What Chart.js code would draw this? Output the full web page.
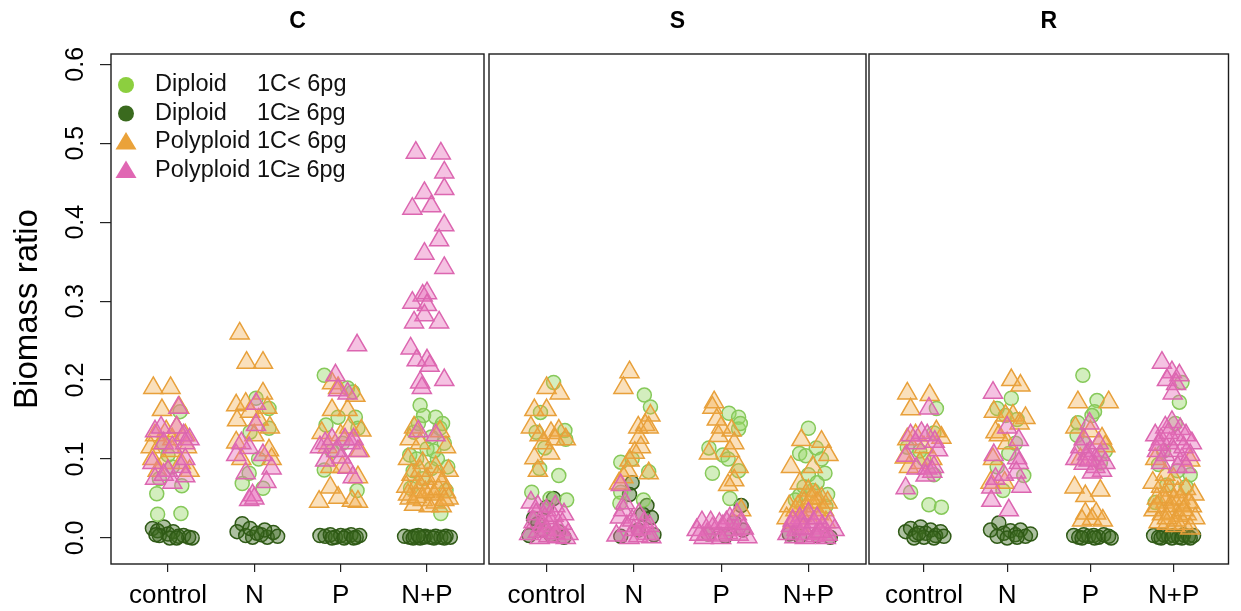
<!DOCTYPE html>
<html>
<head>
<meta charset="utf-8">
<script src="https://cdn.jsdelivr.net/npm/chart.js@4.4.1/dist/chart.umd.min.js"></script>
<style>
  html, body { margin: 0; padding: 0; background: #fff; }
  #wrap { position: relative; width: 1241px; height: 611px; }
  #wrap canvas { position: absolute; left: 0; top: 0; }
</style>
</head>
<body>
<div id="wrap">
  <canvas id="panelC" width="1241" height="611"></canvas>
  <canvas id="panelS" width="1241" height="611"></canvas>
  <canvas id="panelR" width="1241" height="611"></canvas>
</div>
<script>
// Biomass ratio by treatment, three strategies (C / S / R)

const treatments = ['control', 'N', 'P', 'N+P'];
const yTicks = [0, 0.1, 0.2, 0.3, 0.4, 0.5, 0.6];

// points are [jittered treatment position, biomass ratio]
// --- C ---
const cDipSmall = [[1.14,0.16],[0.95,0.12],[1.05,0.09],[0.9,0.075],[1.16,0.066],[0.87,0.056],[0.88,0.03],[1.15,0.031],[1.0,0.105],
  [2.02,0.177],[2.17,0.164],[1.95,0.134],[2.17,0.139],[1.94,0.082],[1.86,0.069],[2.1,0.063],[2.05,0.1],
  [2.81,0.206],[3.08,0.19],[3.14,0.185],[2.97,0.153],[3.17,0.153],[2.83,0.143],[3.2,0.139],[2.81,0.086],[3.19,0.06],[3.02,0.12],[2.9,0.11],
  [3.92,0.168],[3.96,0.155],[4.1,0.153],[4.15,0.139],[3.85,0.134],[4.05,0.128],[4.2,0.12],[4.0,0.113],[3.8,0.105],[3.88,0.1],[4.12,0.1],[4.05,0.088],[3.81,0.063],[4.16,0.031],[3.95,0.075],[4.22,0.06],
  [4.18,0.145],[3.9,0.145],[4.08,0.11],[3.84,0.085],[4.24,0.09]];
const cDipLarge = [[0.82,0.012],[0.88,0.009],[0.95,0.014],[1.0,0.005],[1.06,0.008],[1.12,0.002],[1.18,0.003],[1.24,0.001],[0.9,0.003],[1.02,0.0],[1.28,0.0],[1.1,0.0],[0.86,0.004],
  [1.86,0.018],[1.8,0.008],[1.9,0.003],[1.98,0.001],[2.08,0.004],[2.15,0.001],[2.22,0.007],[2.27,0.002],[2.12,0.01],[1.95,0.012],[2.03,0.006],
  [2.76,0.003],[2.82,0.002],[2.88,0.004],[2.94,0.001],[3.0,0.003],[3.06,0.002],[3.12,0.004],[3.18,0.001],[3.22,0.003],[2.9,0.0],[3.04,0.0],[3.15,0.0],
  [3.74,0.002],[3.8,0.001],[3.86,0.002],[3.92,0.0],[3.98,0.002],[4.04,0.001],[4.1,0.002],[4.16,0.001],[4.22,0.002],[4.27,0.001],[3.84,0.0],[3.96,0.001],[4.08,0.0],[4.2,0.0],[3.9,0.003]];
const cPolySmall = [[0.83,0.19],[1.03,0.19],[0.93,0.162],[1.13,0.165],[0.85,0.13],[0.98,0.135],[1.1,0.14],[1.2,0.13],[0.8,0.115],[0.92,0.12],[1.05,0.11],[1.22,0.115],[0.82,0.1],[0.95,0.095],[1.15,0.095],[1.25,0.085],[0.88,0.085],[1.05,0.125],
  [1.83,0.259],[1.91,0.222],[2.1,0.222],[2.1,0.183],[1.79,0.168],[1.9,0.17],[2.15,0.165],[1.8,0.149],[2.18,0.14],[1.79,0.121],[2.17,0.111],[2.05,0.15],[1.95,0.16],[2.2,0.1],[1.85,0.1],[2.0,0.13],
  [2.9,0.196],[2.97,0.19],[3.17,0.18],[2.9,0.162],[3.08,0.162],[3.24,0.136],[2.78,0.133],[3.0,0.13],[3.22,0.11],[2.88,0.09],[3.02,0.09],[3.2,0.077],[2.88,0.064],[2.97,0.051],[3.13,0.047],[3.2,0.046],[2.75,0.046],[3.1,0.14],[2.85,0.115],
  [3.85,0.14],[4.15,0.135],[3.8,0.125],[3.92,0.12],[4.22,0.115],[3.78,0.1],[3.95,0.095],[4.1,0.09],[4.25,0.085],[3.82,0.08],[4.0,0.075],[4.18,0.07],[3.76,0.065],[3.9,0.06],[4.05,0.06],[4.22,0.058],[3.8,0.05],[3.95,0.048],[4.1,0.045],[4.25,0.05],[3.85,0.042],[4.02,0.04],[4.17,0.04],[3.9,0.07],[4.08,0.055],
  [3.78,0.055],[3.88,0.052],[3.98,0.058],[4.13,0.062],[4.2,0.048],[3.92,0.085],[4.12,0.078]];
const cPolyLarge = [[1.12,0.165],[0.85,0.135],[0.92,0.14],[1.1,0.14],[1.18,0.13],[1.25,0.125],[0.95,0.12],[1.05,0.115],[1.2,0.12],[0.82,0.095],[1.0,0.085],[1.15,0.09],[1.2,0.1],[0.85,0.075],[1.05,0.07],[0.95,0.08],[1.2,0.078],
  [2.02,0.17],[2.02,0.143],[1.94,0.114],[1.79,0.105],[2.1,0.105],[2.2,0.088],[1.9,0.082],[2.14,0.071],[1.98,0.054],[1.94,0.048],[2.0,0.05],[1.85,0.12],
  [3.19,0.244],[2.94,0.206],[2.97,0.187],[3.08,0.183],[2.76,0.115],[2.82,0.12],[2.9,0.125],[3.05,0.125],[3.12,0.12],[3.15,0.125],[3.01,0.102],[3.08,0.089],[3.14,0.077],[2.82,0.098],[2.95,0.11],[3.2,0.11],
  [3.87,0.488],[4.16,0.487],[4.2,0.463],[4.2,0.442],[3.97,0.437],[4.05,0.42],[3.83,0.417],[4.2,0.396],[4.14,0.377],[3.97,0.36],[4.2,0.342],[3.95,0.307],[4.0,0.31],[3.83,0.298],[4.0,0.295],[3.97,0.282],[3.85,0.273],[4.14,0.273],[3.81,0.24],[3.88,0.225],[4.0,0.225],[4.03,0.218],[4.2,0.2],[3.92,0.197],[3.94,0.19],[3.9,0.135],[4.1,0.13]];

// --- S ---
const sDipSmall = [[1.08,0.197],[0.93,0.159],[1.21,0.136],[0.88,0.134],[1.22,0.125],[0.98,0.114],[0.92,0.088],[1.14,0.079],[0.83,0.058],[1.23,0.048],[1.04,0.05],
  [2.12,0.181],[2.19,0.166],[1.85,0.096],[1.98,0.1],[2.17,0.084],[1.85,0.058],[1.84,0.044],[2.11,0.048],
  [3.09,0.158],[3.2,0.153],[3.2,0.138],[2.86,0.114],[3.02,0.105],[3.08,0.1],[2.9,0.082],[3.2,0.085],[3.22,0.145],[3.1,0.05],
  [4.0,0.139],[3.9,0.107],[3.97,0.104],[4.09,0.114],[4.19,0.082],[4.0,0.08],[3.9,0.054],[3.85,0.048],[4.2,0.04],[4.05,0.06],[4.15,0.1],
  [4.1,0.07],[3.95,0.065],[4.22,0.055]];
const sDipLarge = [[1.08,0.05],[1.0,0.039],[0.9,0.018],[0.96,0.01],[1.14,0.008],[0.85,0.025],[1.2,0.001],[1.05,0.004],[0.8,0.003],
  [1.98,0.07],[2.15,0.041],[2.2,0.026],[2.1,0.03],[2.23,0.004],[1.95,0.055],[2.05,0.01],[1.85,0.002],
  [3.23,0.041],[3.25,0.01],[3.15,0.02],[2.85,0.005],[3.05,0.002],
  [3.78,0.005],[3.9,0.002],[4.1,0.003],[4.25,0.001]];
const sPolySmall = [[1.0,0.19],[1.15,0.183],[0.86,0.162],[1.0,0.162],[0.92,0.13],[1.05,0.133],[1.14,0.136],[1.22,0.125],[0.96,0.12],[1.04,0.107],[0.86,0.101],[0.9,0.085],[1.1,0.125],[0.82,0.14],
  [1.95,0.21],[1.88,0.19],[2.19,0.155],[2.13,0.143],[2.05,0.14],[2.17,0.14],[2.06,0.127],[2.08,0.115],[2.01,0.108],[1.95,0.098],[1.93,0.085],[1.88,0.077],[2.17,0.082],[1.83,0.069],
  [2.92,0.172],[2.9,0.165],[2.97,0.129],[3.12,0.136],[3.15,0.12],[2.86,0.107],[3.1,0.11],[3.2,0.09],[3.15,0.073],[3.08,0.067],[3.23,0.035],[3.0,0.14],[2.95,0.15],
  [3.92,0.124],[4.15,0.122],[4.23,0.105],[3.8,0.09],[4.05,0.09],[3.9,0.069],[4.0,0.06],[4.08,0.055],[4.15,0.05],[4.22,0.045],[3.78,0.04],[3.85,0.035],[3.95,0.045],[4.05,0.04],[4.12,0.03],[3.75,0.025],[3.82,0.02],[4.0,0.025],[4.2,0.02],[3.9,0.015],
  [3.98,0.035],[4.1,0.045],[4.18,0.035],[3.88,0.04],[4.03,0.05],[3.92,0.028]];
const sPolyLarge = [[0.82,0.045],[0.9,0.04],[1.0,0.035],[1.1,0.04],[1.2,0.03],[0.85,0.02],[0.95,0.015],[1.05,0.02],[1.15,0.01],[1.25,0.005],[0.8,0.005],[0.92,0.0],[1.02,0.002],[1.12,0.001],[1.22,0.0],
  [0.88,0.03],[0.98,0.025],[1.08,0.028],[1.18,0.018],[0.9,0.008],[1.0,0.01],[1.1,0.006],
  [1.85,0.067],[1.9,0.044],[1.84,0.026],[1.92,0.015],[2.0,0.01],[2.08,0.012],[2.15,0.005],[1.8,0.003],[1.95,0.0],[2.05,0.002],[2.2,0.001],[2.12,0.02],
  [1.88,0.035],[1.98,0.022],[2.06,0.03],[2.18,0.015],
  [2.72,0.01],[2.78,0.02],[2.84,0.005],[2.9,0.012],[2.96,0.003],[3.02,0.015],[3.08,0.006],[3.14,0.01],[3.2,0.004],[3.26,0.012],[3.3,0.001],[2.8,0.0],[3.0,0.0],[3.1,0.025],[3.18,0.03],
  [2.88,0.02],[2.98,0.018],[3.06,0.02],[3.22,0.018],[2.75,0.004],
  [3.8,0.015],[3.86,0.01],[3.92,0.02],[3.98,0.005],[4.04,0.012],[4.1,0.006],[4.16,0.015],[4.22,0.004],[4.3,0.01],[3.84,0.001],[3.96,0.0],[4.08,0.002],[4.2,0.0],[4.0,0.031],[3.9,0.025],[4.25,0.02],
  [3.82,0.022],[3.94,0.012],[4.06,0.02],[4.14,0.008],[4.1,0.025],[3.76,0.005]];

// --- R ---
const rDipSmall = [[1.15,0.164],[1.12,0.133],[0.8,0.115],[0.95,0.11],[1.12,0.08],[0.84,0.058],[1.06,0.042],[1.21,0.039],[1.0,0.1],
  [2.05,0.177],[1.88,0.164],[1.98,0.155],[2.12,0.15],[2.02,0.107],[1.88,0.09],[2.2,0.079],[1.95,0.06],[2.1,0.12],
  [2.91,0.206],[3.08,0.174],[3.05,0.16],[3.02,0.155],[2.85,0.146],[2.84,0.13],[2.92,0.12],[3.12,0.095],[3.18,0.11],
  [4.1,0.197],[4.07,0.172],[4.02,0.145],[3.82,0.093],[3.92,0.067],[3.78,0.045],[4.15,0.065],[4.2,0.08],[3.88,0.11],[4.05,0.085]];
const rDipLarge = [[0.78,0.008],[0.84,0.012],[0.9,0.004],[0.96,0.014],[1.02,0.006],[1.08,0.01],[1.14,0.003],[1.2,0.008],[1.24,0.002],[0.88,0.0],[1.0,0.001],[1.12,0.0],[0.94,0.006],
  [1.9,0.019],[1.8,0.01],[1.88,0.002],[1.96,0.006],[2.04,0.009],[2.1,0.004],[2.16,0.01],[2.22,0.002],[2.28,0.005],[2.0,0.0],[2.12,0.001],
  [2.8,0.003],[2.86,0.001],[2.92,0.004],[2.98,0.002],[3.04,0.003],[3.1,0.001],[3.16,0.004],[3.22,0.002],[3.25,0.0],[2.9,0.0],[3.05,0.0],
  [3.76,0.003],[3.82,0.001],[3.88,0.004],[3.94,0.002],[4.0,0.003],[4.06,0.001],[4.12,0.004],[4.18,0.002],[4.24,0.003],[3.85,0.0],[3.98,0.0],[4.1,0.0],[4.2,0.0]];
const rPolySmall = [[0.8,0.183],[1.07,0.181],[0.84,0.163],[1.21,0.127],[0.8,0.125],[0.9,0.13],[0.77,0.102],[0.82,0.09],[1.1,0.1],[1.0,0.115],[1.15,0.135],[0.95,0.095],
  [2.05,0.2],[2.16,0.193],[1.84,0.16],[1.98,0.155],[2.07,0.155],[2.22,0.152],[1.86,0.134],[1.9,0.13],[2.0,0.12],[1.8,0.07],[1.97,0.07],[2.15,0.145],[1.83,0.1],
  [2.85,0.172],[3.22,0.172],[2.82,0.14],[3.14,0.126],[3.18,0.116],[2.81,0.064],[2.94,0.053],[3.12,0.06],[2.94,0.031],[3.07,0.031],[3.02,0.024],[2.9,0.022],[3.15,0.022],[2.88,0.1],[3.0,0.135],
  [3.78,0.1],[4.2,0.098],[3.75,0.07],[3.85,0.065],[3.95,0.06],[4.05,0.058],[4.15,0.062],[4.25,0.055],[3.8,0.05],[3.9,0.045],[4.0,0.048],[4.1,0.042],[4.22,0.04],[3.76,0.035],[3.86,0.03],[3.96,0.032],[4.06,0.028],[4.16,0.03],[4.26,0.025],[3.82,0.02],[3.92,0.018],[4.02,0.015],[4.12,0.018],[4.2,0.012],[4.0,0.075],[3.9,0.08],
  [3.88,0.052],[3.98,0.04],[4.08,0.05],[4.18,0.045],[3.8,0.04],[4.03,0.022],[4.12,0.035],[3.92,0.025]];
const rPolyLarge = [[1.06,0.164],[0.84,0.13],[0.97,0.133],[1.04,0.13],[1.13,0.122],[1.17,0.111],[0.79,0.104],[0.91,0.088],[1.04,0.088],[1.12,0.09],[1.1,0.084],[1.02,0.079],[0.78,0.063],[0.9,0.12],
  [1.83,0.184],[2.14,0.124],[1.84,0.105],[2.12,0.101],[2.14,0.095],[2.11,0.083],[1.86,0.075],[1.81,0.064],[2.17,0.065],[1.81,0.047],[2.02,0.035],[1.96,0.08],[2.0,0.14],
  [2.99,0.145],[2.92,0.125],[2.82,0.1],[2.96,0.106],[3.0,0.11],[3.06,0.1],[3.12,0.105],[2.92,0.094],[3.06,0.09],[3.14,0.085],[3.02,0.083],[2.98,0.098],[3.18,0.095],[2.88,0.115],[3.1,0.12],
  [3.86,0.222],[3.98,0.21],[4.07,0.206],[3.92,0.2],[4.03,0.195],[3.99,0.183],[3.98,0.147],[3.9,0.14],[4.08,0.138],[3.78,0.13],[3.85,0.125],[3.95,0.12],[4.05,0.125],[4.15,0.13],[4.22,0.12],[3.8,0.11],[3.9,0.105],[4.0,0.11],[4.1,0.1],[4.2,0.105],[3.85,0.095],[4.05,0.09],[4.15,0.09],
  [3.94,0.133],[4.12,0.115],[3.82,0.118]];

// page geometry (pixels)
const W = 1241, H = 611;
const BOTTOM = 564;
const FONT = '"Liberation Sans", Arial, Helvetica, sans-serif';

Chart.defaults.font.family = FONT;
Chart.defaults.color = '#000';

// group styles, legend order
const groups = [
  { name: 'Diploid',   size: '1C< 6pg', shape: 'circle',   solid: '#8ccf3f', line: '#86c95a', fill: 'rgba(150,214,100,0.42)', order: 2 },
  { name: 'Diploid',   size: '1C\u2265 6pg', shape: 'circle',   solid: '#3a6a1e', line: '#2f5a16', fill: 'rgba(60,105,30,0.42)',   order: 3 },
  { name: 'Polyploid', size: '1C< 6pg', shape: 'triangle', solid: '#eaa23a', line: '#e8a03a', fill: 'rgba(242,168,70,0.36)',  order: 1 },
  { name: 'Polyploid', size: '1C\u2265 6pg', shape: 'triangle', solid: '#e067b3', line: '#dc66b0', fill: 'rgba(230,110,185,0.42)', order: 0 }
];

// frame around each panel
const boxPlugin = {
  id: 'panelBox',
  afterDatasetsDraw(chart) {
    const { ctx, chartArea: a } = chart;
    ctx.save();
    ctx.strokeStyle = '#1c1c1c';
    ctx.lineWidth = 1.4;
    ctx.strokeRect(a.left, a.top, a.right - a.left, a.bottom - a.top);
    ctx.restore();
  }
};

// legend drawn inside the C panel
const legendPlugin = {
  id: 'groupLegend',
  afterDraw(chart) {
    const ctx = chart.ctx;
    ctx.save();
    ctx.font = '23.5px ' + FONT;
    ctx.textBaseline = 'middle';
    groups.forEach((g, i) => {
      const y = 85 + i * 28.5;
      ctx.fillStyle = g.solid;
      ctx.beginPath();
      if (g.shape === 'circle') {
        ctx.arc(126, y, 8, 0, Math.PI * 2);
      } else {
        ctx.moveTo(126, y - 10);
        ctx.lineTo(136.5, y + 7.5);
        ctx.lineTo(115.5, y + 7.5);
        ctx.closePath();
      }
      ctx.fill();
      ctx.fillStyle = '#111';
      ctx.fillText(g.name, 155, y);
      ctx.fillText(g.size, 257, y);
    });
    ctx.restore();
  }
};

function makePanel(id, title, box, series, first) {
  const datasets = groups.map((g, i) => ({
    label: g.name + ' ' + g.size,
    data: series[i].map(([x, y]) => ({ x, y })),
    pointStyle: g.shape,
    pointRadius: g.shape === 'circle' ? 7 : 11,
    pointBorderWidth: 1.5,
    pointBorderColor: g.line,
    pointBackgroundColor: g.fill,
    showLine: false,
    order: g.order
  }));

  return new Chart(document.getElementById(id), {
    type: 'scatter',
    data: { datasets },
    options: {
      responsive: false,
      animation: false,
      devicePixelRatio: 1,
      // the y axis box fills everything left of the panel
      layout: { padding: { left: 0, right: W - box[1], top: 0, bottom: 0 } },
      plugins: {
        legend: { display: false },
        tooltip: { enabled: false },
        title: {
          display: true,
          text: title,
          fullSize: false,
          font: { size: 23, weight: 'bold' },
          color: '#000',
          padding: { top: 8.2, bottom: 18.2 }
        }
      },
      scales: {
        x: {
          type: 'linear',
          min: 0.34,
          max: 4.66,
          afterBuildTicks: s => { s.ticks = treatments.map((_, i) => ({ value: i + 1 })); },
          afterFit: s => { s.height = H - BOTTOM; },
          ticks: {
            callback: v => treatments[v - 1],
            font: { size: 26 },
            color: '#000',
            padding: 8,
            maxRotation: 0,
            autoSkip: false
          },
          grid: { drawOnChartArea: false, drawTicks: true, tickLength: 8, color: '#222', lineWidth: 1.2 },
          border: { display: false }
        },
        y: {
          min: -0.033,
          max: 0.613,
          afterBuildTicks: s => { s.ticks = yTicks.map(v => ({ value: v })); },
          afterFit: s => { s.width = box[0]; },
          ticks: {
            display: first,
            callback: v => v.toFixed(1),
            font: { size: 25 },
            color: '#000',
            padding: 6.6,
            minRotation: 90,
            maxRotation: 90,
            crossAlign: 'center',
            autoSkip: false
          },
          grid: { display: first, drawOnChartArea: false, drawTicks: true, tickLength: 11, color: '#222', lineWidth: 1.2 },
          border: { display: false },
          title: {
            display: first,
            text: 'Biomass ratio',
            font: { size: 33 },
            color: '#000',
            padding: { top: 8, bottom: 0 }
          }
        }
      }
    },
    plugins: first ? [boxPlugin, legendPlugin] : [boxPlugin]
  });
}

makePanel('panelC', 'C', [111, 484], [cDipSmall, cDipLarge, cPolySmall, cPolyLarge], true);
makePanel('panelS', 'S', [489, 866], [sDipSmall, sDipLarge, sPolySmall, sPolyLarge], false);
makePanel('panelR', 'R', [869, 1238], [rDipSmall, rDipLarge, rPolySmall, rPolyLarge], false);
</script>
</body>
</html>
